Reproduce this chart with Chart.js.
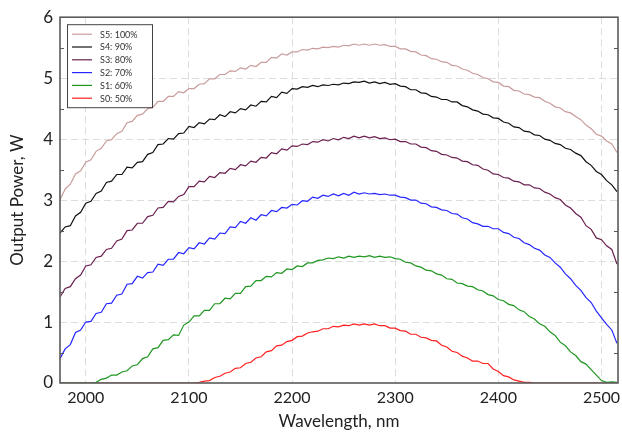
<!doctype html>
<html>

<head>
  <meta charset="utf-8">
  <title>Output Power vs Wavelength</title>
  <style>
    html, body { margin: 0; padding: 0; background: #fff; }
    .chartBox { width: 622px; height: 433px; }
  </style>
</head>

<body>
  <div class="chartBox">
    <canvas id="myChart" width="622" height="433"></canvas>
  </div>

  <script type="text/javascript" src="https://cdn.jsdelivr.net/npm/chart.js"></script>
  <script>
    // wavelength, nm
    const wavelengths = [
      1975, 1980, 1985, 1990, 1995, 2000, 2005, 2010, 2015, 2020,
      2025, 2030, 2035, 2040, 2045, 2050, 2055, 2060, 2065, 2070,
      2075, 2080, 2085, 2090, 2095, 2100, 2105, 2110, 2115, 2120,
      2125, 2130, 2135, 2140, 2145, 2150, 2155, 2160, 2165, 2170,
      2175, 2180, 2185, 2190, 2195, 2200, 2205, 2210, 2215, 2220,
      2225, 2230, 2235, 2240, 2245, 2250, 2255, 2260, 2265, 2270,
      2275, 2280, 2285, 2290, 2295, 2300, 2305, 2310, 2315, 2320,
      2325, 2330, 2335, 2340, 2345, 2350, 2355, 2360, 2365, 2370,
      2375, 2380, 2385, 2390, 2395, 2400, 2405, 2410, 2415, 2420,
      2425, 2430, 2435, 2440, 2445, 2450, 2455, 2460, 2465, 2470,
      2475, 2480, 2485, 2490, 2495, 2500, 2505, 2510, 2515
    ];

    // output power, W
    const s5 = [
      3.01, 3.18, 3.26, 3.43, 3.48, 3.62, 3.66, 3.80, 3.85, 3.97,
      3.99, 4.09, 4.13, 4.27, 4.29, 4.39, 4.41, 4.50, 4.52, 4.62,
      4.62, 4.70, 4.70, 4.78, 4.76, 4.83, 4.83, 4.90, 4.91, 4.99,
      4.99, 5.06, 5.06, 5.12, 5.11, 5.17, 5.15, 5.21, 5.19, 5.26,
      5.26, 5.34, 5.33, 5.40, 5.38, 5.43, 5.43, 5.47, 5.46, 5.49,
      5.48, 5.51, 5.50, 5.52, 5.51, 5.54, 5.53, 5.56, 5.54, 5.56,
      5.54, 5.56, 5.54, 5.55, 5.52, 5.52, 5.48, 5.48, 5.44, 5.43,
      5.38, 5.37, 5.32, 5.31, 5.27, 5.26, 5.21, 5.20, 5.15, 5.13,
      5.08, 5.06, 5.01, 4.99, 4.94, 4.93, 4.87, 4.86, 4.80, 4.79,
      4.74, 4.73, 4.69, 4.68, 4.62, 4.59, 4.53, 4.51, 4.45, 4.43,
      4.37, 4.32, 4.23, 4.17, 4.08, 4.05, 3.97, 3.92, 3.78
    ];
    const s4 = [
      2.46, 2.56, 2.58, 2.74, 2.80, 2.95, 2.98, 3.11, 3.15, 3.29,
      3.31, 3.42, 3.42, 3.54, 3.53, 3.62, 3.63, 3.75, 3.78, 3.91,
      3.92, 4.01, 4.00, 4.09, 4.10, 4.21, 4.19, 4.27, 4.25, 4.33,
      4.32, 4.40, 4.37, 4.45, 4.43, 4.50, 4.48, 4.56, 4.54, 4.62,
      4.61, 4.70, 4.68, 4.77, 4.75, 4.83, 4.82, 4.86, 4.85, 4.88,
      4.86, 4.89, 4.88, 4.90, 4.89, 4.92, 4.91, 4.94, 4.93, 4.95,
      4.92, 4.94, 4.91, 4.93, 4.90, 4.91, 4.87, 4.86, 4.81, 4.81,
      4.76, 4.75, 4.70, 4.69, 4.65, 4.65, 4.61, 4.61, 4.55, 4.53,
      4.48, 4.46, 4.41, 4.40, 4.35, 4.34, 4.28, 4.26, 4.20, 4.19,
      4.13, 4.12, 4.07, 4.06, 4.00, 3.98, 3.93, 3.91, 3.85, 3.83,
      3.77, 3.73, 3.63, 3.57, 3.47, 3.42, 3.32, 3.25, 3.14
    ];
    const s3 = [
      1.41, 1.55, 1.58, 1.71, 1.77, 1.92, 1.94, 2.06, 2.08, 2.19,
      2.21, 2.33, 2.36, 2.50, 2.51, 2.62, 2.62, 2.73, 2.75, 2.87,
      2.88, 2.98, 2.97, 3.06, 3.09, 3.22, 3.22, 3.31, 3.30, 3.39,
      3.37, 3.45, 3.44, 3.52, 3.50, 3.58, 3.56, 3.64, 3.62, 3.70,
      3.69, 3.78, 3.76, 3.84, 3.82, 3.89, 3.88, 3.92, 3.91, 3.96,
      3.95, 3.99, 3.97, 4.01, 3.99, 4.03, 4.01, 4.05, 4.02, 4.05,
      4.02, 4.04, 4.01, 4.02, 3.99, 4.00, 3.96, 3.96, 3.92, 3.92,
      3.87, 3.86, 3.81, 3.80, 3.75, 3.74, 3.70, 3.69, 3.64, 3.63,
      3.58, 3.57, 3.51, 3.49, 3.43, 3.42, 3.37, 3.36, 3.31, 3.30,
      3.25, 3.25, 3.20, 3.19, 3.13, 3.10, 3.04, 3.01, 2.92, 2.87,
      2.78, 2.72, 2.58, 2.52, 2.38, 2.35, 2.25, 2.19, 1.95
    ];
    const s2 = [
      0.40, 0.56, 0.63, 0.83, 0.87, 1.00, 1.01, 1.14, 1.16, 1.30,
      1.31, 1.44, 1.46, 1.62, 1.63, 1.75, 1.72, 1.81, 1.82, 1.95,
      1.93, 2.03, 2.03, 2.14, 2.12, 2.22, 2.20, 2.30, 2.28, 2.38,
      2.36, 2.46, 2.45, 2.56, 2.55, 2.65, 2.62, 2.71, 2.67, 2.76,
      2.74, 2.83, 2.81, 2.88, 2.87, 2.93, 2.92, 2.99, 2.98, 3.05,
      3.03, 3.08, 3.06, 3.10, 3.07, 3.11, 3.08, 3.13, 3.10, 3.12,
      3.10, 3.11, 3.09, 3.10, 3.08, 3.08, 3.05, 3.04, 3.00, 3.00,
      2.95, 2.94, 2.89, 2.88, 2.84, 2.83, 2.78, 2.77, 2.71, 2.69,
      2.63, 2.61, 2.57, 2.57, 2.53, 2.53, 2.47, 2.45, 2.39, 2.37,
      2.30, 2.27, 2.21, 2.18, 2.10, 2.06, 1.97, 1.90, 1.79, 1.71,
      1.60, 1.52, 1.40, 1.32, 1.18, 1.07, 0.96, 0.87, 0.65
    ];
    const s1 = [
      0, 0, 0, 0, 0, 0, 0, 0.01, 0.06, 0.08,
      0.13, 0.13, 0.18, 0.20, 0.28, 0.30, 0.40, 0.43, 0.56, 0.58,
      0.70, 0.71, 0.79, 0.78, 0.95, 1.00, 1.10, 1.10, 1.19, 1.19,
      1.30, 1.30, 1.39, 1.38, 1.47, 1.47, 1.58, 1.59, 1.68, 1.68,
      1.75, 1.74, 1.81, 1.80, 1.87, 1.86, 1.92, 1.91, 1.97, 1.97,
      2.01, 2.02, 2.05, 2.04, 2.07, 2.05, 2.08, 2.06, 2.08, 2.07,
      2.09, 2.06, 2.08, 2.06, 2.07, 2.04, 2.03, 1.98, 1.97, 1.92,
      1.90, 1.85, 1.84, 1.79, 1.77, 1.71, 1.70, 1.64, 1.63, 1.59,
      1.58, 1.53, 1.51, 1.45, 1.43, 1.37, 1.35, 1.29, 1.27, 1.20,
      1.17, 1.09, 1.05, 0.97, 0.93, 0.84, 0.78, 0.67, 0.61, 0.51,
      0.45, 0.35, 0.31, 0.22, 0.13, 0.04, 0.01, 0.02, 0.01
    ];
    const s0 = [
      0, 0, 0, 0, 0, 0, 0, 0, 0, 0,
      0, 0, 0, 0, 0, 0, 0, 0, 0, 0,
      0, 0, 0, 0, 0, 0, 0, 0.01, 0.03, 0.04,
      0.09, 0.11, 0.16, 0.18, 0.24, 0.25, 0.32, 0.34, 0.41, 0.43,
      0.51, 0.53, 0.61, 0.62, 0.68, 0.70, 0.76, 0.77, 0.82, 0.84,
      0.85, 0.89, 0.89, 0.93, 0.92, 0.95, 0.94, 0.97, 0.95, 0.97,
      0.95, 0.97, 0.94, 0.94, 0.90, 0.90, 0.86, 0.85, 0.80, 0.80,
      0.75, 0.74, 0.70, 0.69, 0.62, 0.59, 0.52, 0.50, 0.44, 0.41,
      0.36, 0.36, 0.32, 0.32, 0.23, 0.19, 0.12, 0.10, 0.05, 0.03,
      0.01, 0.01, 0, 0, 0, 0, 0, 0, 0, 0,
      0, 0, 0, 0, 0, 0, 0, 0, 0
    ];

    const seriesNames = ['S5: 100%', 'S4: 90%', 'S3: 80%', 'S2: 70%', 'S1: 60%', 'S0: 50%'];
    const seriesValues = [s5, s4, s3, s2, s1, s0];
    const seriesColors = ['#c99c9c', '#111111', '#6a1f4e', '#2626ff', '#1f961f', '#ff2020'];

    const xTicks = [2000, 2100, 2200, 2300, 2400, 2500];
    const yTicks = [0, 1, 2, 3, 4, 5, 6];
    const yMinorTicks = [0.5, 1.5, 2.5, 3.5, 4.5, 5.5];

    const FONT = 'Lato, "Open Sans", sans-serif';

    const datasets = seriesValues.map((vals, i) => ({
      label: seriesNames[i],
      data: wavelengths.map((w, j) => ({ x: w, y: vals[j] })),
      borderColor: seriesColors[i],
      backgroundColor: seriesColors[i],
      borderWidth: 1.2,
      pointRadius: 0,
      tension: 0,
      fill: false
    }));

    // frame, inward minor ticks and the boxed legend
    const framePlugin = {
      id: 'frame',
      afterDatasetsDraw(chart) {
        const { ctx, chartArea: a, scales } = chart;
        ctx.save();
        ctx.strokeStyle = '#5a5a5a';
        ctx.lineWidth = 1;
        yMinorTicks.forEach((v) => {
          const y = Math.round(scales.y.getPixelForValue(v)) + 0.5;
          ctx.beginPath();
          ctx.moveTo(a.left, y); ctx.lineTo(a.left + 4, y);
          ctx.moveTo(a.right, y); ctx.lineTo(a.right - 4, y);
          ctx.stroke();
        });
        ctx.lineWidth = 1.6;
        ctx.strokeRect(a.left, a.top, a.right - a.left, a.bottom - a.top);
        ctx.restore();
      },
      afterDraw(chart) {
        const { ctx, chartArea: a } = chart;
        const bx = a.left + 7, by = a.top + 7, bw = 85, bh = 83;
        ctx.save();
        ctx.fillStyle = '#fff';
        ctx.fillRect(bx, by, bw, bh);
        ctx.strokeStyle = '#444';
        ctx.lineWidth = 1;
        ctx.strokeRect(bx + 0.5, by + 0.5, bw, bh);
        ctx.font = '9px ' + FONT;
        ctx.textBaseline = 'middle';
        chart.data.datasets.forEach((ds, i) => {
          const y = by + 10 + i * 12.8;
          ctx.strokeStyle = ds.borderColor;
          ctx.lineWidth = 1.2;
          ctx.beginPath();
          ctx.moveTo(bx + 5, y); ctx.lineTo(bx + 25, y);
          ctx.stroke();
          ctx.fillStyle = '#333';
          ctx.fillText(ds.label, bx + 33, y + 0.5);
        });
        ctx.restore();
      }
    };

    const config = {
      type: 'line',
      data: { datasets },
      options: {
        responsive: false,
        animation: false,
        layout: { padding: { left: 0, right: 4, top: 14, bottom: 0 } },
        plugins: {
          legend: { display: false },
          tooltip: { enabled: false }
        },
        scales: {
          x: {
            type: 'linear',
            min: 1975,
            max: 2516,
            afterBuildTicks: (s) => { s.ticks = xTicks.map((v) => ({ value: v })); },
            afterFit: (s) => { s.height = 50; s.paddingRight = 0; s.paddingLeft = 0; },
            grid: { color: '#dcdcdc', lineWidth: 1, drawTicks: false },
            border: { display: false, dash: [7, 4] },
            ticks: {
              padding: 5,
              color: '#222',
              font: { family: FONT, size: 16 },
              maxRotation: 0,
              callback: (v) => String(v)
            },
            title: {
              display: true,
              text: 'Wavelength, nm',
              color: '#222',
              font: { family: FONT, size: 17 },
              padding: { top: 0, bottom: 1 }
            }
          },
          y: {
            min: 0,
            max: 6,
            afterBuildTicks: (s) => { s.ticks = yTicks.map((v) => ({ value: v })); },
            afterFit: (s) => { s.width = 60; },
            grid: {
              color: (c) => (c.tick && (c.tick.value === 0 || c.tick.value === 6)) ? 'rgba(0,0,0,0)' : '#dcdcdc',
              lineWidth: 1,
              drawTicks: false
            },
            border: { display: false, dash: [7, 4] },
            ticks: {
              padding: 7,
              color: '#222',
              font: { family: FONT, size: 17 },
              callback: (v) => String(v)
            },
            title: {
              display: true,
              text: 'Output Power, W',
              color: '#222',
              font: { family: FONT, size: 17 },
              padding: { top: 7, bottom: 0 }
            }
          }
        }
      },
      plugins: [framePlugin]
    };

    const myChart = new Chart(document.getElementById('myChart'), config);
  </script>
</body>

</html>
